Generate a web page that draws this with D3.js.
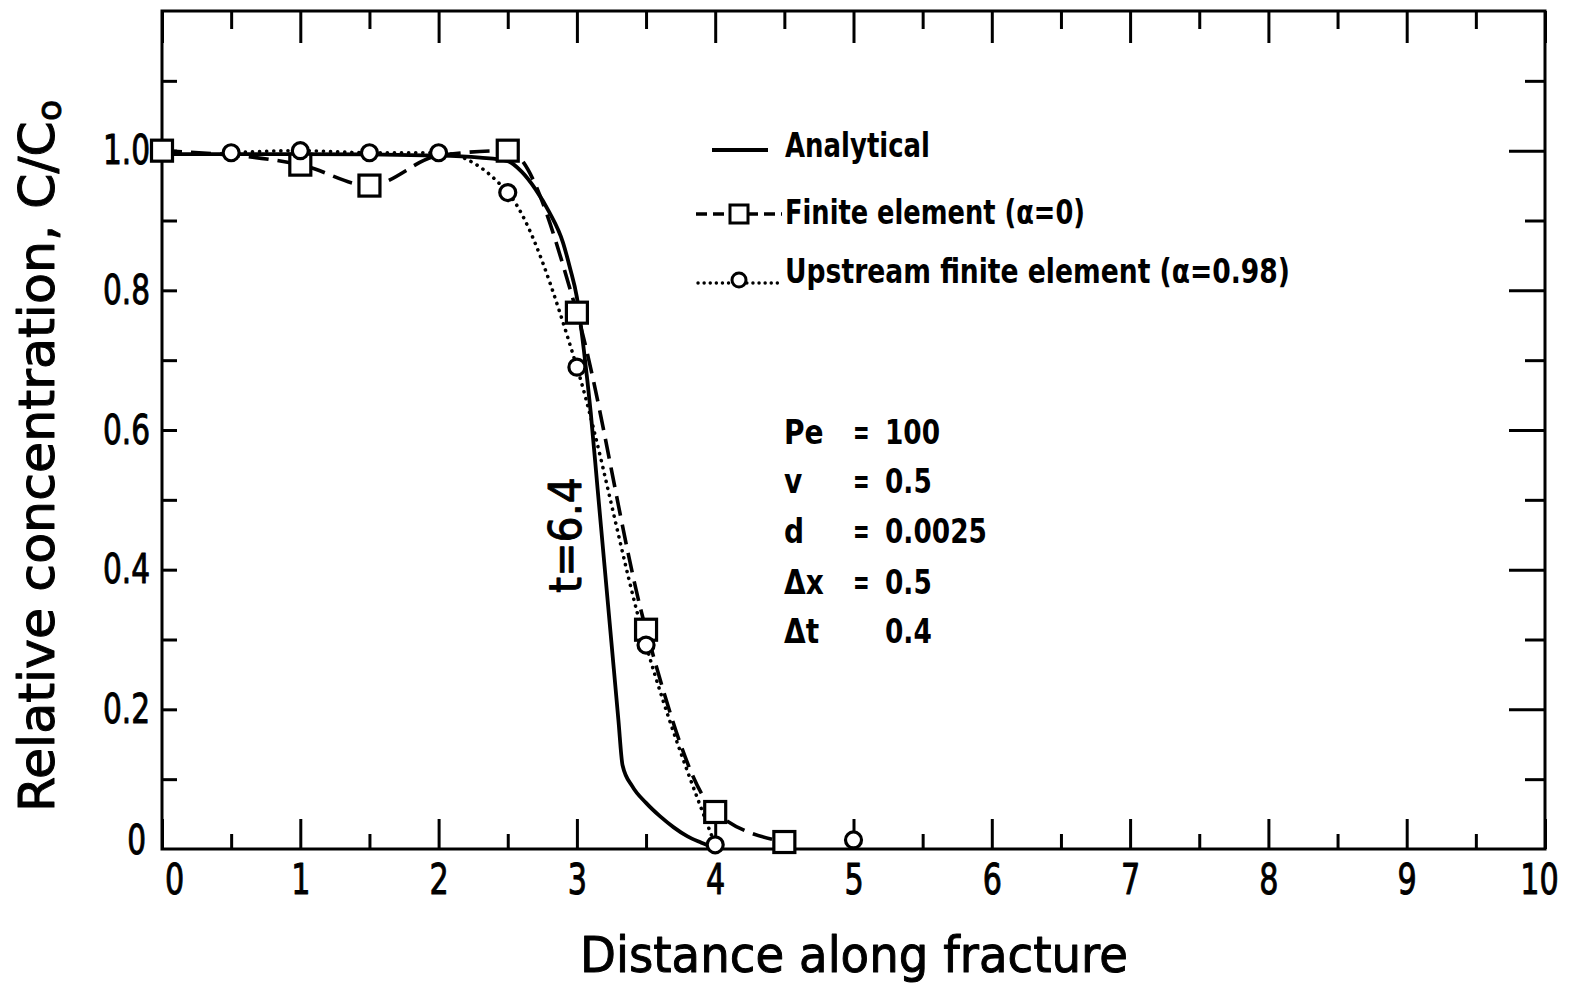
<!DOCTYPE html>
<html><head><meta charset="utf-8">
<script src="https://cdn.jsdelivr.net/npm/d3@7"></script>
<style>
html,body{margin:0;padding:0;background:#fff;}
svg{display:block;}
text{font-family:"DejaVu Sans",sans-serif;fill:#000;}
</style></head>
<body><svg id="c" width="1572" height="988"></svg>
<script>
// ---------- data ----------
const xTicksMajor = [0,1,2,3,4,5,6,7,8,9,10];
const xTicksMinor = [0.5,1.5,2.5,3.5,4.5,5.5,6.5,7.5,8.5,9.5];
const yTickLabels = ["0","0.2","0.4","0.6","0.8","1.0"];
const yTickValues = [0,0.2,0.4,0.6,0.8,1.0];
const yTicksAll = [0.1,0.2,0.3,0.4,0.5,0.6,0.7,0.8,0.9,1.0,1.1];

const analyticX = [0,1,2,2.3,2.5,2.6,2.7,2.8,2.9,2.95,3.0,3.05,3.1,3.15,3.2,3.25,3.3,3.33,3.4,3.5,3.6,3.7,3.8,3.9,3.96,4.0];
const analyticY = [0.995,0.995,0.993,0.99,0.985,0.97,0.945,0.912,0.868,0.832,0.79,0.715,0.625,0.515,0.405,0.295,0.185,0.12,0.09,0.066,0.047,0.031,0.018,0.009,0.004,0.0];

const feX = [0,1,1.5,2,2.5,3,3.5,4,4.5];
const feY = [1.0,0.98,0.95,0.993,1.0,0.768,0.314,0.053,0.01];
const feHiddenMarkers = [2];

const upX = [0.5,1,1.5,2,2.5,3,3.5,4,5];
const upY = [0.997,1.0,0.997,0.997,0.94,0.69,0.292,0.006,0.013];
const upLineMaxX = 4;

const legendLabels = ["Analytical","Finite element (\u03b1=0)","Upstream finite element (\u03b1=0.98)"];
const paramNames = ["Pe","v","d","\u0394x","\u0394t"];
const paramEq = ["=","=","=","=",""];
const paramValues = ["100","0.5","0.0025","0.5","0.4"];

// ---------- chart ----------
const svg = d3.select("#c");
const x = d3.scaleLinear().domain([0,10]).range([162,1545]);
const y = d3.scaleLinear().domain([0,1.2]).range([849,11]);

function condense(sel, f){
  sel.each(function(){
    const w = this.getComputedTextLength();
    d3.select(this).attr("textLength", w*f).attr("lengthAdjust","spacingAndGlyphs");
  });
}
function fitTo(sel, w){ sel.attr("textLength", w).attr("lengthAdjust","spacingAndGlyphs"); }
function heavy(sel, w){ sel.attr("stroke","#000").attr("stroke-width",w).attr("stroke-linejoin","round"); }

function styleAxis(g){
  g.select(".domain").remove();
  g.selectAll(".tick line").attr("stroke","#000").attr("stroke-width",3);
}

// bottom axis
const gB = svg.append("g").attr("transform",`translate(0,${y(0)})`)
  .call(d3.axisBottom(x).tickValues(xTicksMajor).tickSize(-30).tickSizeOuter(0).tickPadding(15).tickFormat(d3.format("d")));
styleAxis(gB);
gB.selectAll(".tick text").attr("font-size",42).call(condense,0.72).call(heavy,1);
gB.selectAll(".tick").filter(d=>d===0).select("text").attr("dx",12);
gB.selectAll(".tick").filter(d=>d===10).select("text").attr("dx",-6);
const gB2 = svg.append("g").attr("transform",`translate(0,${y(0)})`)
  .call(d3.axisBottom(x).tickValues(xTicksMinor).tickSize(-15).tickSizeOuter(0).tickFormat(""));
styleAxis(gB2);

// top axis
const gT = svg.append("g").attr("transform",`translate(0,${y(1.2)})`)
  .call(d3.axisTop(x).tickValues(xTicksMajor).tickSize(-32).tickSizeOuter(0).tickFormat(""));
styleAxis(gT);
const gT2 = svg.append("g").attr("transform",`translate(0,${y(1.2)})`)
  .call(d3.axisTop(x).tickValues(xTicksMinor).tickSize(-18).tickSizeOuter(0).tickFormat(""));
styleAxis(gT2);

// left axis
const gL = svg.append("g").attr("transform",`translate(${x(0)},0)`)
  .call(d3.axisLeft(y).tickValues(yTicksAll).tickSize(-15).tickSizeOuter(0).tickFormat(""));
styleAxis(gL);
const gL2 = svg.append("g").attr("transform",`translate(${x(0)},0)`)
  .call(d3.axisLeft(y).tickValues(yTickValues).tickSize(0).tickSizeOuter(0).tickPadding(12)
    .tickFormat((d,i)=>yTickLabels[i]));
styleAxis(gL2);
gL2.selectAll(".tick text").attr("font-size",40).attr("dy","0.33em").call(condense,0.74).call(heavy,1);
gL2.selectAll(".tick").filter(d=>d===0).select("text").attr("dy","0.12em").attr("dx",-4);

// right axis
const gR = svg.append("g").attr("transform",`translate(${x(10)},0)`)
  .call(d3.axisRight(y).tickValues(yTicksAll.filter((d,i)=>i%2===1)).tickSize(-36).tickSizeOuter(0).tickFormat(""));
styleAxis(gR);
const gR2 = svg.append("g").attr("transform",`translate(${x(10)},0)`)
  .call(d3.axisRight(y).tickValues(yTicksAll.filter((d,i)=>i%2===0)).tickSize(-20).tickSizeOuter(0).tickFormat(""));
styleAxis(gR2);

// frame
svg.append("rect").attr("x",x(0)).attr("y",y(1.2)).attr("width",x(10)-x(0)).attr("height",y(0)-y(1.2))
  .attr("fill","none").attr("stroke","#000").attr("stroke-width",3);

// lines
const line = d3.line().x(d=>x(d[0])).y(d=>y(d[1])).curve(d3.curveMonotoneX);
const aData = analyticX.map((v,i)=>[v,analyticY[i]]);
const fData = feX.map((v,i)=>[v,feY[i]]);
const uData = upX.map((v,i)=>[v,upY[i]]);

svg.append("path").attr("d",line(uData.filter(d=>d[0]<=upLineMaxX))).attr("fill","none")
  .attr("stroke","#000").attr("stroke-width",3.6).attr("stroke-dasharray","0.1 7").attr("stroke-linecap","round");
svg.append("path").attr("d",line(aData)).attr("fill","none").attr("stroke","#000").attr("stroke-width",3.8);
svg.append("path").attr("d",line(fData)).attr("fill","none").attr("stroke","#000").attr("stroke-width",3.6)
  .attr("stroke-dasharray","20 9");

// markers
const sq = 21;
svg.selectAll("rect.fe").data(fData.filter(d=>!feHiddenMarkers.includes(d[0]))).enter().append("rect")
  .attr("class","fe").attr("x",d=>x(d[0])-sq/2).attr("y",d=>y(d[1])-sq/2).attr("width",sq).attr("height",sq)
  .attr("fill","#fff").attr("stroke","#000").attr("stroke-width",3.2);
svg.selectAll("circle.up").data(uData).enter().append("circle")
  .attr("class","up").attr("cx",d=>x(d[0])).attr("cy",d=>y(d[1])).attr("r",8)
  .attr("fill","#fff").attr("stroke","#000").attr("stroke-width",3.2);

// legend
const lg = svg.append("g");
lg.append("line").attr("x1",712).attr("x2",768).attr("y1",150).attr("y2",150).attr("stroke","#000").attr("stroke-width",3.8);
lg.append("line").attr("x1",696).attr("x2",782).attr("y1",214).attr("y2",214).attr("stroke","#000").attr("stroke-width",3.4).attr("stroke-dasharray","11 6");
lg.append("rect").attr("x",730).attr("y",205).attr("width",18).attr("height",18).attr("fill","#fff").attr("stroke","#000").attr("stroke-width",3);
lg.append("line").attr("x1",698).attr("x2",783).attr("y1",283).attr("y2",283).attr("stroke","#000").attr("stroke-width",3.4).attr("stroke-dasharray","0.1 6").attr("stroke-linecap","round");
lg.append("circle").attr("cx",739).attr("cy",280).attr("r",7).attr("fill","#fff").attr("stroke","#000").attr("stroke-width",3);
const legW = [145,300,505];
const legY = [157,224,283];
legendLabels.forEach((t,i)=>{
  lg.append("text").attr("x",785).attr("y",legY[i]).attr("font-size",33).attr("font-weight","bold").text(t).call(fitTo,legW[i]);
});

// parameters
const pY = [444,493,543,594,643];
paramNames.forEach((t,i)=>{
  svg.append("text").attr("x",784).attr("y",pY[i]).attr("font-size",33).attr("font-weight","bold").text(t).call(condense,0.85);
  if(paramEq[i]) svg.append("text").attr("x",853).attr("y",pY[i]).attr("font-size",33).attr("font-weight","bold").text(paramEq[i]).call(condense,0.6);
  svg.append("text").attr("x",885).attr("y",pY[i]).attr("font-size",33).attr("font-weight","bold").text(paramValues[i]).call(condense,0.8);
});

// t=6.4 annotation
svg.append("text").attr("transform","translate(581,535) rotate(-90)").attr("text-anchor","middle")
  .attr("font-size",44).text("t=6.4").call(fitTo,116).call(heavy,1);

// axis titles
svg.append("text").attr("x",854).attr("y",972).attr("text-anchor","middle").attr("font-size",50)
  .text("Distance along fracture").call(fitTo,548).call(heavy,1);
const yt = svg.append("text").attr("transform","translate(54,456) rotate(-90)").attr("text-anchor","middle").attr("font-size",50);
yt.append("tspan").text("Relative concentration, C/C");
yt.append("tspan").attr("font-size",34).attr("dy","0.2em").text("o");
yt.call(fitTo,712).call(heavy,1);
</script></body></html>
